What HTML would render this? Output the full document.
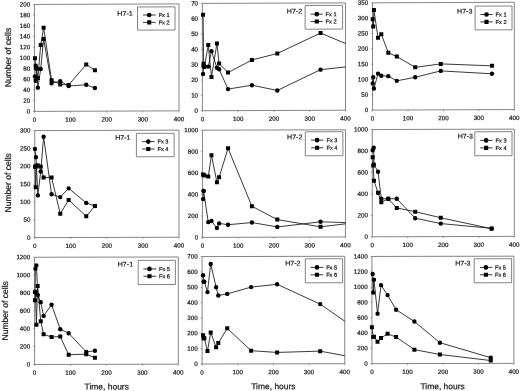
<!DOCTYPE html>
<html><head><meta charset="utf-8"><title>Figure</title>
<style>
html,body{margin:0;padding:0;background:#fff;}
body{width:520px;height:391px;overflow:hidden;}
svg{display:block;will-change:transform;transform:translateZ(0);filter:blur(0.3px);}
text{font-family:"Liberation Sans",sans-serif;fill:#1a1a1a;stroke:#1a1a1a;stroke-width:0.22px;}
</style></head><body>
<svg width="520" height="391" viewBox="0 0 520 391">
<rect x="0" y="0" width="520" height="391" fill="#ffffff"/>
<g transform="skewY(-0.2120)">
<g>
<rect x="34.45" y="4.58" width="144.55" height="106.95" fill="none" stroke="#666666" stroke-width="0.8"/>
<line x1="32.95" y1="111.53" x2="34.45" y2="111.53" stroke="#666666" stroke-width="0.6"/><text x="30.15" y="113.53" font-size="6.25" text-anchor="end">0</text>
<line x1="32.95" y1="100.84" x2="34.45" y2="100.84" stroke="#666666" stroke-width="0.6"/><text x="30.15" y="102.84" font-size="6.25" text-anchor="end">20</text>
<line x1="32.95" y1="90.14" x2="34.45" y2="90.14" stroke="#666666" stroke-width="0.6"/><text x="30.15" y="92.14" font-size="6.25" text-anchor="end">40</text>
<line x1="32.95" y1="79.44" x2="34.45" y2="79.44" stroke="#666666" stroke-width="0.6"/><text x="30.15" y="81.44" font-size="6.25" text-anchor="end">60</text>
<line x1="32.95" y1="68.75" x2="34.45" y2="68.75" stroke="#666666" stroke-width="0.6"/><text x="30.15" y="70.75" font-size="6.25" text-anchor="end">80</text>
<line x1="32.95" y1="58.05" x2="34.45" y2="58.05" stroke="#666666" stroke-width="0.6"/><text x="30.15" y="60.05" font-size="6.25" text-anchor="end">100</text>
<line x1="32.95" y1="47.36" x2="34.45" y2="47.36" stroke="#666666" stroke-width="0.6"/><text x="30.15" y="49.36" font-size="6.25" text-anchor="end">120</text>
<line x1="32.95" y1="36.66" x2="34.45" y2="36.66" stroke="#666666" stroke-width="0.6"/><text x="30.15" y="38.66" font-size="6.25" text-anchor="end">140</text>
<line x1="32.95" y1="25.97" x2="34.45" y2="25.97" stroke="#666666" stroke-width="0.6"/><text x="30.15" y="27.97" font-size="6.25" text-anchor="end">160</text>
<line x1="32.95" y1="15.27" x2="34.45" y2="15.27" stroke="#666666" stroke-width="0.6"/><text x="30.15" y="17.27" font-size="6.25" text-anchor="end">180</text>
<line x1="32.95" y1="4.58" x2="34.45" y2="4.58" stroke="#666666" stroke-width="0.6"/><text x="30.15" y="6.58" font-size="6.25" text-anchor="end">200</text>
<line x1="34.45" y1="111.53" x2="34.45" y2="113.03" stroke="#666666" stroke-width="0.6"/><text x="34.45" y="121.93" font-size="6.25" text-anchor="middle">0</text>
<line x1="70.59" y1="111.53" x2="70.59" y2="113.03" stroke="#666666" stroke-width="0.6"/><text x="70.59" y="121.93" font-size="6.25" text-anchor="middle">100</text>
<line x1="106.73" y1="111.53" x2="106.73" y2="113.03" stroke="#666666" stroke-width="0.6"/><text x="106.73" y="121.93" font-size="6.25" text-anchor="middle">200</text>
<line x1="142.86" y1="111.53" x2="142.86" y2="113.03" stroke="#666666" stroke-width="0.6"/><text x="142.86" y="121.93" font-size="6.25" text-anchor="middle">300</text>
<line x1="179" y1="111.53" x2="179" y2="113.03" stroke="#666666" stroke-width="0.6"/><text x="179" y="121.93" font-size="6.25" text-anchor="middle">400</text>
<clipPath id="c00"><rect x="31.45" y="4.58" width="147.55" height="109.95"/></clipPath>
<g clip-path="url(#c00)">
<polyline points="34.95,76.59 35.67,80.86 36.4,68.57 37.84,87.81 40.73,69.1 43.62,39.17 51.57,83.54 60.24,81.4 68.65,86.21 86.25,85.14 94.92,88.35" fill="none" stroke="#151515" stroke-width="0.85" stroke-linejoin="round"/>
<polyline points="34.95,58.41 35.67,65.9 36.4,68.57 37.84,78.19 40.73,45.05 43.62,27.84 51.57,80.33 60.24,84.61 68.65,85.14 86.25,64.83 94.92,70.71" fill="none" stroke="#151515" stroke-width="0.85" stroke-linejoin="round"/>
<circle cx="34.95" cy="76.59" r="2.2" fill="#000"/><circle cx="35.67" cy="80.86" r="2.2" fill="#000"/><circle cx="36.4" cy="68.57" r="2.2" fill="#000"/><circle cx="37.84" cy="87.81" r="2.2" fill="#000"/><circle cx="40.73" cy="69.1" r="2.2" fill="#000"/><circle cx="43.62" cy="39.17" r="2.2" fill="#000"/><circle cx="51.57" cy="83.54" r="2.2" fill="#000"/><circle cx="60.24" cy="81.4" r="2.2" fill="#000"/><circle cx="68.65" cy="86.21" r="2.2" fill="#000"/><circle cx="86.25" cy="85.14" r="2.2" fill="#000"/><circle cx="94.92" cy="88.35" r="2.2" fill="#000"/>
<rect x="32.95" y="56.41" width="4" height="4" fill="#000"/><rect x="33.67" y="63.9" width="4" height="4" fill="#000"/><rect x="34.4" y="66.57" width="4" height="4" fill="#000"/><rect x="35.84" y="76.19" width="4" height="4" fill="#000"/><rect x="38.73" y="43.05" width="4" height="4" fill="#000"/><rect x="41.62" y="25.84" width="4" height="4" fill="#000"/><rect x="49.57" y="78.33" width="4" height="4" fill="#000"/><rect x="58.24" y="82.61" width="4" height="4" fill="#000"/><rect x="66.65" y="83.14" width="4" height="4" fill="#000"/><rect x="84.25" y="62.83" width="4" height="4" fill="#000"/><rect x="92.92" y="68.71" width="4" height="4" fill="#000"/>
</g>
<rect x="137.5" y="7.51" width="37.5" height="23.15" fill="#fff" stroke="#666666" stroke-width="0.8"/>
<line x1="143" y1="15.55" x2="155.7" y2="15.55" stroke="#151515" stroke-width="0.85"/><circle cx="149.2" cy="15.55" r="2.3" fill="#000"/><text x="158.65" y="17.6" font-size="5.65">Fx 1</text>
<line x1="143" y1="22.95" x2="155.7" y2="22.95" stroke="#151515" stroke-width="0.85"/><rect x="147.15" y="20.9" width="4.1" height="4.1" fill="#000"/><text x="158.65" y="25" font-size="5.65">Fx 2</text>
<text transform="translate(132.7,16.24) scale(1.06,1)" font-size="6.7" text-anchor="end">H7-1</text>
</g>
<g>
<rect x="202.4" y="4.15" width="143.1" height="107.34" fill="none" stroke="#666666" stroke-width="0.8"/>
<line x1="200.9" y1="111.49" x2="202.4" y2="111.49" stroke="#666666" stroke-width="0.6"/><text x="198.1" y="113.49" font-size="6.25" text-anchor="end">0</text>
<line x1="200.9" y1="96.16" x2="202.4" y2="96.16" stroke="#666666" stroke-width="0.6"/><text x="198.1" y="98.16" font-size="6.25" text-anchor="end">10</text>
<line x1="200.9" y1="80.82" x2="202.4" y2="80.82" stroke="#666666" stroke-width="0.6"/><text x="198.1" y="82.82" font-size="6.25" text-anchor="end">20</text>
<line x1="200.9" y1="65.49" x2="202.4" y2="65.49" stroke="#666666" stroke-width="0.6"/><text x="198.1" y="67.49" font-size="6.25" text-anchor="end">30</text>
<line x1="200.9" y1="50.15" x2="202.4" y2="50.15" stroke="#666666" stroke-width="0.6"/><text x="198.1" y="52.15" font-size="6.25" text-anchor="end">40</text>
<line x1="200.9" y1="34.82" x2="202.4" y2="34.82" stroke="#666666" stroke-width="0.6"/><text x="198.1" y="36.82" font-size="6.25" text-anchor="end">50</text>
<line x1="200.9" y1="19.48" x2="202.4" y2="19.48" stroke="#666666" stroke-width="0.6"/><text x="198.1" y="21.48" font-size="6.25" text-anchor="end">60</text>
<line x1="200.9" y1="4.15" x2="202.4" y2="4.15" stroke="#666666" stroke-width="0.6"/><text x="198.1" y="6.15" font-size="6.25" text-anchor="end">70</text>
<line x1="202.4" y1="111.49" x2="202.4" y2="112.99" stroke="#666666" stroke-width="0.6"/><text x="202.4" y="121.89" font-size="6.25" text-anchor="middle">0</text>
<line x1="238.18" y1="111.49" x2="238.18" y2="112.99" stroke="#666666" stroke-width="0.6"/><text x="238.18" y="121.89" font-size="6.25" text-anchor="middle">100</text>
<line x1="273.95" y1="111.49" x2="273.95" y2="112.99" stroke="#666666" stroke-width="0.6"/><text x="273.95" y="121.89" font-size="6.25" text-anchor="middle">200</text>
<line x1="309.73" y1="111.49" x2="309.73" y2="112.99" stroke="#666666" stroke-width="0.6"/><text x="309.73" y="121.89" font-size="6.25" text-anchor="middle">300</text>
<line x1="345.5" y1="111.49" x2="345.5" y2="112.99" stroke="#666666" stroke-width="0.6"/><text x="345.5" y="121.89" font-size="6.25" text-anchor="middle">400</text>
<clipPath id="c01"><rect x="199.4" y="4.15" width="146.1" height="110.34"/></clipPath>
<g clip-path="url(#c01)">
<polyline points="203.08,74.68 203.62,67.04 204.33,67.04 208.26,67.35 211.48,51.92 216.92,68.57 219.1,70.1 228.04,89.95 251.89,86.13 277.29,91.48 320.56,70.86 363.83,66.28" fill="none" stroke="#151515" stroke-width="0.85" stroke-linejoin="round"/>
<polyline points="203.08,15.43 203.62,64.6 204.33,67.81 208.26,45.82 211.48,77.73 216.92,44.29 219.1,64.29 228.04,73.46 251.89,60.93 277.29,54.52 320.56,34.21 363.83,52.53" fill="none" stroke="#151515" stroke-width="0.85" stroke-linejoin="round"/>
<circle cx="203.08" cy="74.68" r="2.2" fill="#000"/><circle cx="203.62" cy="67.04" r="2.2" fill="#000"/><circle cx="204.33" cy="67.04" r="2.2" fill="#000"/><circle cx="208.26" cy="67.35" r="2.2" fill="#000"/><circle cx="211.48" cy="51.92" r="2.2" fill="#000"/><circle cx="216.92" cy="68.57" r="2.2" fill="#000"/><circle cx="219.1" cy="70.1" r="2.2" fill="#000"/><circle cx="228.04" cy="89.95" r="2.2" fill="#000"/><circle cx="251.89" cy="86.13" r="2.2" fill="#000"/><circle cx="277.29" cy="91.48" r="2.2" fill="#000"/><circle cx="320.56" cy="70.86" r="2.2" fill="#000"/>
<rect x="201.08" y="13.43" width="4" height="4" fill="#000"/><rect x="201.62" y="62.6" width="4" height="4" fill="#000"/><rect x="202.33" y="65.81" width="4" height="4" fill="#000"/><rect x="206.26" y="43.82" width="4" height="4" fill="#000"/><rect x="209.48" y="75.73" width="4" height="4" fill="#000"/><rect x="214.92" y="42.29" width="4" height="4" fill="#000"/><rect x="217.1" y="62.29" width="4" height="4" fill="#000"/><rect x="226.04" y="71.46" width="4" height="4" fill="#000"/><rect x="249.89" y="58.93" width="4" height="4" fill="#000"/><rect x="275.29" y="52.52" width="4" height="4" fill="#000"/><rect x="318.56" y="32.21" width="4" height="4" fill="#000"/>
</g>
<rect x="305.1" y="6.63" width="37.5" height="23.7" fill="#fff" stroke="#666666" stroke-width="0.8"/>
<line x1="310.6" y1="15.32" x2="322.7" y2="15.32" stroke="#151515" stroke-width="0.85"/><circle cx="316.8" cy="15.32" r="2.3" fill="#000"/><text x="325.55" y="17.37" font-size="5.65">Fx 1</text>
<line x1="310.6" y1="22.67" x2="322.7" y2="22.67" stroke="#151515" stroke-width="0.85"/><rect x="314.75" y="20.62" width="4.1" height="4.1" fill="#000"/><text x="325.55" y="24.72" font-size="5.65">Fx 2</text>
<text transform="translate(302.15,14.52) scale(1.06,1)" font-size="6.7" text-anchor="end">H7-2</text>
</g>
<g>
<rect x="372.55" y="4.18" width="141.75" height="107.3" fill="none" stroke="#666666" stroke-width="0.8"/>
<line x1="371.05" y1="111.48" x2="372.55" y2="111.48" stroke="#666666" stroke-width="0.6"/><text x="368.25" y="113.48" font-size="6.25" text-anchor="end">0</text>
<line x1="371.05" y1="96.15" x2="372.55" y2="96.15" stroke="#666666" stroke-width="0.6"/><text x="368.25" y="98.15" font-size="6.25" text-anchor="end">50</text>
<line x1="371.05" y1="80.82" x2="372.55" y2="80.82" stroke="#666666" stroke-width="0.6"/><text x="368.25" y="82.82" font-size="6.25" text-anchor="end">100</text>
<line x1="371.05" y1="65.49" x2="372.55" y2="65.49" stroke="#666666" stroke-width="0.6"/><text x="368.25" y="67.49" font-size="6.25" text-anchor="end">150</text>
<line x1="371.05" y1="50.17" x2="372.55" y2="50.17" stroke="#666666" stroke-width="0.6"/><text x="368.25" y="52.17" font-size="6.25" text-anchor="end">200</text>
<line x1="371.05" y1="34.84" x2="372.55" y2="34.84" stroke="#666666" stroke-width="0.6"/><text x="368.25" y="36.84" font-size="6.25" text-anchor="end">250</text>
<line x1="371.05" y1="19.51" x2="372.55" y2="19.51" stroke="#666666" stroke-width="0.6"/><text x="368.25" y="21.51" font-size="6.25" text-anchor="end">300</text>
<line x1="371.05" y1="4.18" x2="372.55" y2="4.18" stroke="#666666" stroke-width="0.6"/><text x="368.25" y="6.18" font-size="6.25" text-anchor="end">350</text>
<line x1="372.55" y1="111.48" x2="372.55" y2="112.98" stroke="#666666" stroke-width="0.6"/><text x="372.55" y="121.88" font-size="6.25" text-anchor="middle">0</text>
<line x1="407.99" y1="111.48" x2="407.99" y2="112.98" stroke="#666666" stroke-width="0.6"/><text x="407.99" y="121.88" font-size="6.25" text-anchor="middle">100</text>
<line x1="443.42" y1="111.48" x2="443.42" y2="112.98" stroke="#666666" stroke-width="0.6"/><text x="443.42" y="121.88" font-size="6.25" text-anchor="middle">200</text>
<line x1="478.86" y1="111.48" x2="478.86" y2="112.98" stroke="#666666" stroke-width="0.6"/><text x="478.86" y="121.88" font-size="6.25" text-anchor="middle">300</text>
<line x1="514.3" y1="111.48" x2="514.3" y2="112.98" stroke="#666666" stroke-width="0.6"/><text x="514.3" y="121.88" font-size="6.25" text-anchor="middle">400</text>
<clipPath id="c02"><rect x="369.55" y="4.18" width="144.75" height="110.3"/></clipPath>
<g clip-path="url(#c02)">
<polyline points="372.67,84.76 373.23,78.65 373.94,89.95 378.02,74.98 381.31,77.12 388.29,77.58 396.79,82.31 415.21,78.8 440.79,72.54 491.98,75.59" fill="none" stroke="#151515" stroke-width="0.85" stroke-linejoin="round"/>
<polyline points="372.67,20.62 373.23,27.95 373.94,11.45 378.02,39.25 381.31,35.58 388.29,54.21 396.79,58.03 415.21,68.88 440.79,65.52 491.98,67.65" fill="none" stroke="#151515" stroke-width="0.85" stroke-linejoin="round"/>
<circle cx="372.67" cy="84.76" r="2.2" fill="#000"/><circle cx="373.23" cy="78.65" r="2.2" fill="#000"/><circle cx="373.94" cy="89.95" r="2.2" fill="#000"/><circle cx="378.02" cy="74.98" r="2.2" fill="#000"/><circle cx="381.31" cy="77.12" r="2.2" fill="#000"/><circle cx="388.29" cy="77.58" r="2.2" fill="#000"/><circle cx="396.79" cy="82.31" r="2.2" fill="#000"/><circle cx="415.21" cy="78.8" r="2.2" fill="#000"/><circle cx="440.79" cy="72.54" r="2.2" fill="#000"/><circle cx="491.98" cy="75.59" r="2.2" fill="#000"/>
<rect x="370.67" y="18.62" width="4" height="4" fill="#000"/><rect x="371.23" y="25.95" width="4" height="4" fill="#000"/><rect x="371.94" y="9.45" width="4" height="4" fill="#000"/><rect x="376.02" y="37.25" width="4" height="4" fill="#000"/><rect x="379.31" y="33.58" width="4" height="4" fill="#000"/><rect x="386.29" y="52.21" width="4" height="4" fill="#000"/><rect x="394.79" y="56.03" width="4" height="4" fill="#000"/><rect x="413.21" y="66.88" width="4" height="4" fill="#000"/><rect x="438.79" y="63.52" width="4" height="4" fill="#000"/><rect x="489.98" y="65.65" width="4" height="4" fill="#000"/>
</g>
<rect x="475.1" y="7.91" width="36.9" height="23.75" fill="#fff" stroke="#666666" stroke-width="0.8"/>
<line x1="480.4" y1="16.3" x2="492.7" y2="16.3" stroke="#151515" stroke-width="0.85"/><circle cx="486.5" cy="16.3" r="2.3" fill="#000"/><text x="495.55" y="18.35" font-size="5.65">Fx 1</text>
<line x1="480.4" y1="23.7" x2="492.7" y2="23.7" stroke="#151515" stroke-width="0.85"/><rect x="484.45" y="21.65" width="4.1" height="4.1" fill="#000"/><text x="495.55" y="25.75" font-size="5.65">Fx 2</text>
<text transform="translate(472.4,15.25) scale(1.06,1)" font-size="6.7" text-anchor="end">H7-3</text>
</g>
<text transform="translate(10.8,57.54) rotate(-90)" font-size="8.55" text-anchor="middle">Number of cells</text>
</g>
<g transform="skewY(-0.1719)">
<g>
<rect x="34.75" y="130.7" width="144.25" height="107.06" fill="none" stroke="#666666" stroke-width="0.8"/>
<line x1="33.25" y1="237.76" x2="34.75" y2="237.76" stroke="#666666" stroke-width="0.6"/><text x="30.45" y="239.76" font-size="6.25" text-anchor="end">0</text>
<line x1="33.25" y1="219.92" x2="34.75" y2="219.92" stroke="#666666" stroke-width="0.6"/><text x="30.45" y="221.92" font-size="6.25" text-anchor="end">50</text>
<line x1="33.25" y1="202.07" x2="34.75" y2="202.07" stroke="#666666" stroke-width="0.6"/><text x="30.45" y="204.07" font-size="6.25" text-anchor="end">100</text>
<line x1="33.25" y1="184.23" x2="34.75" y2="184.23" stroke="#666666" stroke-width="0.6"/><text x="30.45" y="186.23" font-size="6.25" text-anchor="end">150</text>
<line x1="33.25" y1="166.39" x2="34.75" y2="166.39" stroke="#666666" stroke-width="0.6"/><text x="30.45" y="168.39" font-size="6.25" text-anchor="end">200</text>
<line x1="33.25" y1="148.54" x2="34.75" y2="148.54" stroke="#666666" stroke-width="0.6"/><text x="30.45" y="150.54" font-size="6.25" text-anchor="end">250</text>
<line x1="33.25" y1="130.7" x2="34.75" y2="130.7" stroke="#666666" stroke-width="0.6"/><text x="30.45" y="132.7" font-size="6.25" text-anchor="end">300</text>
<line x1="34.75" y1="237.76" x2="34.75" y2="239.26" stroke="#666666" stroke-width="0.6"/><text x="34.75" y="248.16" font-size="6.25" text-anchor="middle">0</text>
<line x1="70.81" y1="237.76" x2="70.81" y2="239.26" stroke="#666666" stroke-width="0.6"/><text x="70.81" y="248.16" font-size="6.25" text-anchor="middle">100</text>
<line x1="106.88" y1="237.76" x2="106.88" y2="239.26" stroke="#666666" stroke-width="0.6"/><text x="106.88" y="248.16" font-size="6.25" text-anchor="middle">200</text>
<line x1="142.94" y1="237.76" x2="142.94" y2="239.26" stroke="#666666" stroke-width="0.6"/><text x="142.94" y="248.16" font-size="6.25" text-anchor="middle">300</text>
<line x1="179" y1="237.76" x2="179" y2="239.26" stroke="#666666" stroke-width="0.6"/><text x="179" y="248.16" font-size="6.25" text-anchor="middle">400</text>
<clipPath id="c10"><rect x="31.75" y="130.7" width="147.25" height="110.06"/></clipPath>
<g clip-path="url(#c10)">
<polyline points="34.95,149.07 35.96,157.29 36.4,165.5 37.84,195.5 40.73,171.57 43.62,136.93 51.57,194.43 60.24,197.29 68.65,188.54 86.25,203.15 94.92,206.22" fill="none" stroke="#151515" stroke-width="0.85" stroke-linejoin="round"/>
<polyline points="34.95,166.93 35.67,187.29 36.4,166.57 37.84,165.5 40.73,166.75 43.62,177.65 51.57,177.65 60.24,213.9 68.65,200.15 86.25,216.58 94.92,206.22" fill="none" stroke="#151515" stroke-width="0.85" stroke-linejoin="round"/>
<circle cx="34.95" cy="149.07" r="2.2" fill="#000"/><circle cx="35.96" cy="157.29" r="2.2" fill="#000"/><circle cx="36.4" cy="165.5" r="2.2" fill="#000"/><circle cx="37.84" cy="195.5" r="2.2" fill="#000"/><circle cx="40.73" cy="171.57" r="2.2" fill="#000"/><circle cx="43.62" cy="136.93" r="2.2" fill="#000"/><circle cx="51.57" cy="194.43" r="2.2" fill="#000"/><circle cx="60.24" cy="197.29" r="2.2" fill="#000"/><circle cx="68.65" cy="188.54" r="2.2" fill="#000"/><circle cx="86.25" cy="203.15" r="2.2" fill="#000"/><circle cx="94.92" cy="206.22" r="2.2" fill="#000"/>
<rect x="32.95" y="164.93" width="4" height="4" fill="#000"/><rect x="33.67" y="185.29" width="4" height="4" fill="#000"/><rect x="34.4" y="164.57" width="4" height="4" fill="#000"/><rect x="35.84" y="163.5" width="4" height="4" fill="#000"/><rect x="38.73" y="164.75" width="4" height="4" fill="#000"/><rect x="41.62" y="175.65" width="4" height="4" fill="#000"/><rect x="49.57" y="175.65" width="4" height="4" fill="#000"/><rect x="58.24" y="211.9" width="4" height="4" fill="#000"/><rect x="66.65" y="198.15" width="4" height="4" fill="#000"/><rect x="84.25" y="214.58" width="4" height="4" fill="#000"/><rect x="92.92" y="204.22" width="4" height="4" fill="#000"/>
</g>
<rect x="136.4" y="133.81" width="37.75" height="23.4" fill="#fff" stroke="#666666" stroke-width="0.8"/>
<line x1="142.15" y1="142.04" x2="154.5" y2="142.04" stroke="#151515" stroke-width="0.85"/><circle cx="148.3" cy="142.04" r="2.3" fill="#000"/><text x="157.45" y="144.09" font-size="5.65">Fx 3</text>
<line x1="142.15" y1="149.44" x2="154.5" y2="149.44" stroke="#151515" stroke-width="0.85"/><rect x="146.25" y="147.39" width="4.1" height="4.1" fill="#000"/><text x="157.45" y="151.49" font-size="5.65">Fx 4</text>
<text transform="translate(130.5,140.19) scale(1.06,1)" font-size="6.7" text-anchor="end">H7-1</text>
</g>
<g>
<rect x="202.45" y="130.81" width="143.01" height="107.19" fill="none" stroke="#666666" stroke-width="0.8"/>
<line x1="200.95" y1="238" x2="202.45" y2="238" stroke="#666666" stroke-width="0.6"/><text x="198.15" y="240" font-size="6.25" text-anchor="end">0</text>
<line x1="200.95" y1="216.56" x2="202.45" y2="216.56" stroke="#666666" stroke-width="0.6"/><text x="198.15" y="218.56" font-size="6.25" text-anchor="end">200</text>
<line x1="200.95" y1="195.12" x2="202.45" y2="195.12" stroke="#666666" stroke-width="0.6"/><text x="198.15" y="197.12" font-size="6.25" text-anchor="end">400</text>
<line x1="200.95" y1="173.69" x2="202.45" y2="173.69" stroke="#666666" stroke-width="0.6"/><text x="198.15" y="175.69" font-size="6.25" text-anchor="end">600</text>
<line x1="200.95" y1="152.25" x2="202.45" y2="152.25" stroke="#666666" stroke-width="0.6"/><text x="198.15" y="154.25" font-size="6.25" text-anchor="end">800</text>
<line x1="200.95" y1="130.81" x2="202.45" y2="130.81" stroke="#666666" stroke-width="0.6"/><text x="198.15" y="132.81" font-size="6.25" text-anchor="end">1000</text>
<line x1="202.45" y1="238" x2="202.45" y2="239.5" stroke="#666666" stroke-width="0.6"/><text x="202.45" y="248.4" font-size="6.25" text-anchor="middle">0</text>
<line x1="238.2" y1="238" x2="238.2" y2="239.5" stroke="#666666" stroke-width="0.6"/><text x="238.2" y="248.4" font-size="6.25" text-anchor="middle">100</text>
<line x1="273.95" y1="238" x2="273.95" y2="239.5" stroke="#666666" stroke-width="0.6"/><text x="273.95" y="248.4" font-size="6.25" text-anchor="middle">200</text>
<line x1="309.71" y1="238" x2="309.71" y2="239.5" stroke="#666666" stroke-width="0.6"/><text x="309.71" y="248.4" font-size="6.25" text-anchor="middle">300</text>
<line x1="345.46" y1="238" x2="345.46" y2="239.5" stroke="#666666" stroke-width="0.6"/><text x="345.46" y="248.4" font-size="6.25" text-anchor="middle">400</text>
<clipPath id="c11"><rect x="199.45" y="130.81" width="146.01" height="110.19"/></clipPath>
<g clip-path="url(#c11)">
<polyline points="203.08,199.72 203.62,191.68 203.62,191.68 208.26,222.76 211.48,221.68 216.92,228.65 219.1,224.04 228.04,225.43 251.89,223.29 277.29,227.79 320.56,222.76 363.83,224.3" fill="none" stroke="#151515" stroke-width="0.85" stroke-linejoin="round"/>
<polyline points="203.08,175.18 203.62,175.5 204.33,176.04 208.26,177.11 211.48,156 216.92,182.79 219.1,177.97 228.04,149.04 251.89,207.01 277.29,220.45 320.56,227.79 363.83,222.68" fill="none" stroke="#151515" stroke-width="0.85" stroke-linejoin="round"/>
<circle cx="203.08" cy="199.72" r="2.2" fill="#000"/><circle cx="203.62" cy="191.68" r="2.2" fill="#000"/><circle cx="203.62" cy="191.68" r="2.2" fill="#000"/><circle cx="208.26" cy="222.76" r="2.2" fill="#000"/><circle cx="211.48" cy="221.68" r="2.2" fill="#000"/><circle cx="216.92" cy="228.65" r="2.2" fill="#000"/><circle cx="219.1" cy="224.04" r="2.2" fill="#000"/><circle cx="228.04" cy="225.43" r="2.2" fill="#000"/><circle cx="251.89" cy="223.29" r="2.2" fill="#000"/><circle cx="277.29" cy="227.79" r="2.2" fill="#000"/><circle cx="320.56" cy="222.76" r="2.2" fill="#000"/>
<rect x="201.08" y="173.18" width="4" height="4" fill="#000"/><rect x="201.62" y="173.5" width="4" height="4" fill="#000"/><rect x="202.33" y="174.04" width="4" height="4" fill="#000"/><rect x="206.26" y="175.11" width="4" height="4" fill="#000"/><rect x="209.48" y="154" width="4" height="4" fill="#000"/><rect x="214.92" y="180.79" width="4" height="4" fill="#000"/><rect x="217.1" y="175.97" width="4" height="4" fill="#000"/><rect x="226.04" y="147.04" width="4" height="4" fill="#000"/><rect x="249.89" y="205.01" width="4" height="4" fill="#000"/><rect x="275.29" y="218.45" width="4" height="4" fill="#000"/><rect x="318.56" y="225.79" width="4" height="4" fill="#000"/>
</g>
<rect x="305.3" y="132.72" width="37.6" height="24" fill="#fff" stroke="#666666" stroke-width="0.8"/>
<line x1="311" y1="141.1" x2="323.3" y2="141.1" stroke="#151515" stroke-width="0.85"/><circle cx="317.1" cy="141.1" r="2.3" fill="#000"/><text x="326.45" y="143.15" font-size="5.65">Fx 3</text>
<line x1="311" y1="148.75" x2="323.3" y2="148.75" stroke="#151515" stroke-width="0.85"/><rect x="315.05" y="146.7" width="4.1" height="4.1" fill="#000"/><text x="326.45" y="150.8" font-size="5.65">Fx 4</text>
<text transform="translate(302.4,140.21) scale(1.06,1)" font-size="6.7" text-anchor="end">H7-2</text>
</g>
<g>
<rect x="372.25" y="130.66" width="142.05" height="107.26" fill="none" stroke="#666666" stroke-width="0.8"/>
<line x1="370.75" y1="237.92" x2="372.25" y2="237.92" stroke="#666666" stroke-width="0.6"/><text x="367.95" y="239.92" font-size="6.25" text-anchor="end">0</text>
<line x1="370.75" y1="216.47" x2="372.25" y2="216.47" stroke="#666666" stroke-width="0.6"/><text x="367.95" y="218.47" font-size="6.25" text-anchor="end">200</text>
<line x1="370.75" y1="195.02" x2="372.25" y2="195.02" stroke="#666666" stroke-width="0.6"/><text x="367.95" y="197.02" font-size="6.25" text-anchor="end">400</text>
<line x1="370.75" y1="173.56" x2="372.25" y2="173.56" stroke="#666666" stroke-width="0.6"/><text x="367.95" y="175.56" font-size="6.25" text-anchor="end">600</text>
<line x1="370.75" y1="152.11" x2="372.25" y2="152.11" stroke="#666666" stroke-width="0.6"/><text x="367.95" y="154.11" font-size="6.25" text-anchor="end">800</text>
<line x1="370.75" y1="130.66" x2="372.25" y2="130.66" stroke="#666666" stroke-width="0.6"/><text x="367.95" y="132.66" font-size="6.25" text-anchor="end">1000</text>
<line x1="372.25" y1="237.92" x2="372.25" y2="239.42" stroke="#666666" stroke-width="0.6"/><text x="372.25" y="248.32" font-size="6.25" text-anchor="middle">0</text>
<line x1="407.76" y1="237.92" x2="407.76" y2="239.42" stroke="#666666" stroke-width="0.6"/><text x="407.76" y="248.32" font-size="6.25" text-anchor="middle">100</text>
<line x1="443.27" y1="237.92" x2="443.27" y2="239.42" stroke="#666666" stroke-width="0.6"/><text x="443.27" y="248.32" font-size="6.25" text-anchor="middle">200</text>
<line x1="478.79" y1="237.92" x2="478.79" y2="239.42" stroke="#666666" stroke-width="0.6"/><text x="478.79" y="248.32" font-size="6.25" text-anchor="middle">300</text>
<line x1="514.3" y1="237.92" x2="514.3" y2="239.42" stroke="#666666" stroke-width="0.6"/><text x="514.3" y="248.32" font-size="6.25" text-anchor="middle">400</text>
<clipPath id="c12"><rect x="369.25" y="130.66" width="145.05" height="110.26"/></clipPath>
<g clip-path="url(#c12)">
<polyline points="372.67,151.39 373.73,148.82 373.94,165.65 378.02,172.82 381.31,199.93 388.29,199.93 396.79,199.93 415.21,219.43 440.79,224.9 491.62,229.83" fill="none" stroke="#151515" stroke-width="0.85" stroke-linejoin="round"/>
<polyline points="372.67,158.25 373.23,166.72 373.94,181.82 378.02,193.83 381.31,203.47 388.29,199.93 396.79,209.15 415.21,212.9 440.79,219.11 491.62,230.15" fill="none" stroke="#151515" stroke-width="0.85" stroke-linejoin="round"/>
<circle cx="372.67" cy="151.39" r="2.2" fill="#000"/><circle cx="373.73" cy="148.82" r="2.2" fill="#000"/><circle cx="373.94" cy="165.65" r="2.2" fill="#000"/><circle cx="378.02" cy="172.82" r="2.2" fill="#000"/><circle cx="381.31" cy="199.93" r="2.2" fill="#000"/><circle cx="388.29" cy="199.93" r="2.2" fill="#000"/><circle cx="396.79" cy="199.93" r="2.2" fill="#000"/><circle cx="415.21" cy="219.43" r="2.2" fill="#000"/><circle cx="440.79" cy="224.9" r="2.2" fill="#000"/><circle cx="491.62" cy="229.83" r="2.2" fill="#000"/>
<rect x="370.67" y="156.25" width="4" height="4" fill="#000"/><rect x="371.23" y="164.72" width="4" height="4" fill="#000"/><rect x="371.94" y="179.82" width="4" height="4" fill="#000"/><rect x="376.02" y="191.83" width="4" height="4" fill="#000"/><rect x="379.31" y="201.47" width="4" height="4" fill="#000"/><rect x="386.29" y="197.93" width="4" height="4" fill="#000"/><rect x="394.79" y="207.15" width="4" height="4" fill="#000"/><rect x="413.21" y="210.9" width="4" height="4" fill="#000"/><rect x="438.79" y="217.11" width="4" height="4" fill="#000"/><rect x="489.62" y="228.15" width="4" height="4" fill="#000"/>
</g>
<rect x="474.8" y="133.22" width="37.2" height="24" fill="#fff" stroke="#666666" stroke-width="0.8"/>
<line x1="480.25" y1="141.86" x2="492.55" y2="141.86" stroke="#151515" stroke-width="0.85"/><circle cx="486.15" cy="141.86" r="2.3" fill="#000"/><text x="495.55" y="143.91" font-size="5.65">Fx 3</text>
<line x1="480.25" y1="149.36" x2="492.55" y2="149.36" stroke="#151515" stroke-width="0.85"/><rect x="484.1" y="147.31" width="4.1" height="4.1" fill="#000"/><text x="495.55" y="151.41" font-size="5.65">Fx 4</text>
<text transform="translate(473,139.97) scale(1.06,1)" font-size="6.7" text-anchor="end">H7-3</text>
</g>
<text transform="translate(11.2,182.83) rotate(-90)" font-size="8.55" text-anchor="middle">Number of cells</text>
</g>
<g transform="skewY(-0.1146)">
<g>
<rect x="34.6" y="257.33" width="143.7" height="107.2" fill="none" stroke="#666666" stroke-width="0.8"/>
<line x1="33.1" y1="364.53" x2="34.6" y2="364.53" stroke="#666666" stroke-width="0.6"/><text x="30.3" y="366.53" font-size="6.25" text-anchor="end">0</text>
<line x1="33.1" y1="346.66" x2="34.6" y2="346.66" stroke="#666666" stroke-width="0.6"/><text x="30.3" y="348.66" font-size="6.25" text-anchor="end">200</text>
<line x1="33.1" y1="328.8" x2="34.6" y2="328.8" stroke="#666666" stroke-width="0.6"/><text x="30.3" y="330.8" font-size="6.25" text-anchor="end">400</text>
<line x1="33.1" y1="310.93" x2="34.6" y2="310.93" stroke="#666666" stroke-width="0.6"/><text x="30.3" y="312.93" font-size="6.25" text-anchor="end">600</text>
<line x1="33.1" y1="293.06" x2="34.6" y2="293.06" stroke="#666666" stroke-width="0.6"/><text x="30.3" y="295.06" font-size="6.25" text-anchor="end">800</text>
<line x1="33.1" y1="275.2" x2="34.6" y2="275.2" stroke="#666666" stroke-width="0.6"/><text x="30.3" y="277.2" font-size="6.25" text-anchor="end">1000</text>
<line x1="33.1" y1="257.33" x2="34.6" y2="257.33" stroke="#666666" stroke-width="0.6"/><text x="30.3" y="259.33" font-size="6.25" text-anchor="end">1200</text>
<line x1="34.6" y1="364.53" x2="34.6" y2="366.03" stroke="#666666" stroke-width="0.6"/><text x="34.6" y="374.93" font-size="6.25" text-anchor="middle">0</text>
<line x1="70.53" y1="364.53" x2="70.53" y2="366.03" stroke="#666666" stroke-width="0.6"/><text x="70.53" y="374.93" font-size="6.25" text-anchor="middle">100</text>
<line x1="106.45" y1="364.53" x2="106.45" y2="366.03" stroke="#666666" stroke-width="0.6"/><text x="106.45" y="374.93" font-size="6.25" text-anchor="middle">200</text>
<line x1="142.38" y1="364.53" x2="142.38" y2="366.03" stroke="#666666" stroke-width="0.6"/><text x="142.38" y="374.93" font-size="6.25" text-anchor="middle">300</text>
<line x1="178.3" y1="364.53" x2="178.3" y2="366.03" stroke="#666666" stroke-width="0.6"/><text x="178.3" y="374.93" font-size="6.25" text-anchor="middle">400</text>
<clipPath id="c20"><rect x="31.6" y="257.33" width="146.7" height="110.2"/></clipPath>
<g clip-path="url(#c20)">
<polyline points="34.95,292.33 35.42,268.74 36.4,265.44 37.84,295.19 40.73,302.24 43.62,316 51.57,304.83 60.24,329.31 68.65,333.33 86.25,352.09 94.92,350.93" fill="none" stroke="#151515" stroke-width="0.85" stroke-linejoin="round"/>
<polyline points="34.95,300.28 35.42,291.79 36.4,324.84 37.62,286.07 40.73,321.36 43.62,334.4 51.57,337.17 60.24,336.64 68.65,354.86 86.25,354.32 94.92,357.9" fill="none" stroke="#151515" stroke-width="0.85" stroke-linejoin="round"/>
<circle cx="34.95" cy="292.33" r="2.2" fill="#000"/><circle cx="35.42" cy="268.74" r="2.2" fill="#000"/><circle cx="36.4" cy="265.44" r="2.2" fill="#000"/><circle cx="37.84" cy="295.19" r="2.2" fill="#000"/><circle cx="40.73" cy="302.24" r="2.2" fill="#000"/><circle cx="43.62" cy="316" r="2.2" fill="#000"/><circle cx="51.57" cy="304.83" r="2.2" fill="#000"/><circle cx="60.24" cy="329.31" r="2.2" fill="#000"/><circle cx="68.65" cy="333.33" r="2.2" fill="#000"/><circle cx="86.25" cy="352.09" r="2.2" fill="#000"/><circle cx="94.92" cy="350.93" r="2.2" fill="#000"/>
<rect x="32.95" y="298.28" width="4" height="4" fill="#000"/><rect x="33.42" y="289.79" width="4" height="4" fill="#000"/><rect x="34.4" y="322.84" width="4" height="4" fill="#000"/><rect x="35.62" y="284.07" width="4" height="4" fill="#000"/><rect x="38.73" y="319.36" width="4" height="4" fill="#000"/><rect x="41.62" y="332.4" width="4" height="4" fill="#000"/><rect x="49.57" y="335.17" width="4" height="4" fill="#000"/><rect x="58.24" y="334.64" width="4" height="4" fill="#000"/><rect x="66.65" y="352.86" width="4" height="4" fill="#000"/><rect x="84.25" y="352.32" width="4" height="4" fill="#000"/><rect x="92.92" y="355.9" width="4" height="4" fill="#000"/>
</g>
<rect x="138.2" y="260.68" width="37.2" height="24.2" fill="#fff" stroke="#666666" stroke-width="0.8"/>
<line x1="143.4" y1="269.2" x2="156.3" y2="269.2" stroke="#151515" stroke-width="0.85"/><circle cx="149.5" cy="269.2" r="2.3" fill="#000"/><text x="158.95" y="271.25" font-size="5.65">Fx 5</text>
<line x1="143.4" y1="276.55" x2="156.3" y2="276.55" stroke="#151515" stroke-width="0.85"/><rect x="147.45" y="274.5" width="4.1" height="4.1" fill="#000"/><text x="158.95" y="278.6" font-size="5.65">Fx 6</text>
<text transform="translate(133.1,266.67) scale(1.06,1)" font-size="6.7" text-anchor="end">H7-1</text>
</g>
<g>
<rect x="202.1" y="256.98" width="142.65" height="107.42" fill="none" stroke="#666666" stroke-width="0.8"/>
<line x1="200.6" y1="364.4" x2="202.1" y2="364.4" stroke="#666666" stroke-width="0.6"/><text x="197.8" y="366.4" font-size="6.25" text-anchor="end">0</text>
<line x1="200.6" y1="349.05" x2="202.1" y2="349.05" stroke="#666666" stroke-width="0.6"/><text x="197.8" y="351.05" font-size="6.25" text-anchor="end">100</text>
<line x1="200.6" y1="333.71" x2="202.1" y2="333.71" stroke="#666666" stroke-width="0.6"/><text x="197.8" y="335.71" font-size="6.25" text-anchor="end">200</text>
<line x1="200.6" y1="318.36" x2="202.1" y2="318.36" stroke="#666666" stroke-width="0.6"/><text x="197.8" y="320.36" font-size="6.25" text-anchor="end">300</text>
<line x1="200.6" y1="303.02" x2="202.1" y2="303.02" stroke="#666666" stroke-width="0.6"/><text x="197.8" y="305.02" font-size="6.25" text-anchor="end">400</text>
<line x1="200.6" y1="287.67" x2="202.1" y2="287.67" stroke="#666666" stroke-width="0.6"/><text x="197.8" y="289.67" font-size="6.25" text-anchor="end">500</text>
<line x1="200.6" y1="272.33" x2="202.1" y2="272.33" stroke="#666666" stroke-width="0.6"/><text x="197.8" y="274.33" font-size="6.25" text-anchor="end">600</text>
<line x1="200.6" y1="256.98" x2="202.1" y2="256.98" stroke="#666666" stroke-width="0.6"/><text x="197.8" y="258.98" font-size="6.25" text-anchor="end">700</text>
<line x1="202.1" y1="364.4" x2="202.1" y2="365.9" stroke="#666666" stroke-width="0.6"/><text x="202.1" y="374.8" font-size="6.25" text-anchor="middle">0</text>
<line x1="237.76" y1="364.4" x2="237.76" y2="365.9" stroke="#666666" stroke-width="0.6"/><text x="237.76" y="374.8" font-size="6.25" text-anchor="middle">100</text>
<line x1="273.43" y1="364.4" x2="273.43" y2="365.9" stroke="#666666" stroke-width="0.6"/><text x="273.43" y="374.8" font-size="6.25" text-anchor="middle">200</text>
<line x1="309.09" y1="364.4" x2="309.09" y2="365.9" stroke="#666666" stroke-width="0.6"/><text x="309.09" y="374.8" font-size="6.25" text-anchor="middle">300</text>
<line x1="344.75" y1="364.4" x2="344.75" y2="365.9" stroke="#666666" stroke-width="0.6"/><text x="344.75" y="374.8" font-size="6.25" text-anchor="middle">400</text>
<clipPath id="c21"><rect x="199.1" y="256.98" width="145.65" height="110.42"/></clipPath>
<g clip-path="url(#c21)">
<polyline points="203.08,275.66 203.62,282.09 204.33,282.09 207.48,292.51 210.7,264.48 216.13,287.61 218.28,295.88 227.22,294.34 251.11,287.61 277.11,284.85 320.2,304.76 363.83,335.23" fill="none" stroke="#151515" stroke-width="0.85" stroke-linejoin="round"/>
<polyline points="203.08,335.54 203.62,338.6 204.33,338.6 207.48,351.47 210.7,332.94 216.13,347.79 218.28,343.5 227.22,328.8 251.11,351.16 277.11,353 320.2,351.77 363.83,360.04" fill="none" stroke="#151515" stroke-width="0.85" stroke-linejoin="round"/>
<circle cx="203.08" cy="275.66" r="2.2" fill="#000"/><circle cx="203.62" cy="282.09" r="2.2" fill="#000"/><circle cx="204.33" cy="282.09" r="2.2" fill="#000"/><circle cx="207.48" cy="292.51" r="2.2" fill="#000"/><circle cx="210.7" cy="264.48" r="2.2" fill="#000"/><circle cx="216.13" cy="287.61" r="2.2" fill="#000"/><circle cx="218.28" cy="295.88" r="2.2" fill="#000"/><circle cx="227.22" cy="294.34" r="2.2" fill="#000"/><circle cx="251.11" cy="287.61" r="2.2" fill="#000"/><circle cx="277.11" cy="284.85" r="2.2" fill="#000"/><circle cx="320.2" cy="304.76" r="2.2" fill="#000"/>
<rect x="201.08" y="333.54" width="4" height="4" fill="#000"/><rect x="201.62" y="336.6" width="4" height="4" fill="#000"/><rect x="202.33" y="336.6" width="4" height="4" fill="#000"/><rect x="205.48" y="349.47" width="4" height="4" fill="#000"/><rect x="208.7" y="330.94" width="4" height="4" fill="#000"/><rect x="214.13" y="345.79" width="4" height="4" fill="#000"/><rect x="216.28" y="341.5" width="4" height="4" fill="#000"/><rect x="225.22" y="326.8" width="4" height="4" fill="#000"/><rect x="249.11" y="349.16" width="4" height="4" fill="#000"/><rect x="275.11" y="351" width="4" height="4" fill="#000"/><rect x="318.2" y="349.77" width="4" height="4" fill="#000"/>
</g>
<rect x="305.3" y="259.41" width="37.3" height="24" fill="#fff" stroke="#666666" stroke-width="0.8"/>
<line x1="310.6" y1="268.03" x2="323.3" y2="268.03" stroke="#151515" stroke-width="0.85"/><circle cx="317" cy="268.03" r="2.3" fill="#000"/><text x="326.15" y="270.08" font-size="5.65">Fx 5</text>
<line x1="310.6" y1="275.43" x2="323.3" y2="275.43" stroke="#151515" stroke-width="0.85"/><rect x="314.95" y="273.38" width="4.1" height="4.1" fill="#000"/><text x="326.15" y="277.48" font-size="5.65">Fx 6</text>
<text transform="translate(300.55,266.1) scale(1.06,1)" font-size="6.7" text-anchor="end">H7-2</text>
</g>
<g>
<rect x="371.95" y="257.2" width="141.95" height="107.2" fill="none" stroke="#666666" stroke-width="0.8"/>
<line x1="370.45" y1="364.4" x2="371.95" y2="364.4" stroke="#666666" stroke-width="0.6"/><text x="367.65" y="366.4" font-size="6.25" text-anchor="end">0</text>
<line x1="370.45" y1="349.09" x2="371.95" y2="349.09" stroke="#666666" stroke-width="0.6"/><text x="367.65" y="351.09" font-size="6.25" text-anchor="end">200</text>
<line x1="370.45" y1="333.77" x2="371.95" y2="333.77" stroke="#666666" stroke-width="0.6"/><text x="367.65" y="335.77" font-size="6.25" text-anchor="end">400</text>
<line x1="370.45" y1="318.46" x2="371.95" y2="318.46" stroke="#666666" stroke-width="0.6"/><text x="367.65" y="320.46" font-size="6.25" text-anchor="end">600</text>
<line x1="370.45" y1="303.14" x2="371.95" y2="303.14" stroke="#666666" stroke-width="0.6"/><text x="367.65" y="305.14" font-size="6.25" text-anchor="end">800</text>
<line x1="370.45" y1="287.83" x2="371.95" y2="287.83" stroke="#666666" stroke-width="0.6"/><text x="367.65" y="289.83" font-size="6.25" text-anchor="end">1000</text>
<line x1="370.45" y1="272.51" x2="371.95" y2="272.51" stroke="#666666" stroke-width="0.6"/><text x="367.65" y="274.51" font-size="6.25" text-anchor="end">1200</text>
<line x1="370.45" y1="257.2" x2="371.95" y2="257.2" stroke="#666666" stroke-width="0.6"/><text x="367.65" y="259.2" font-size="6.25" text-anchor="end">1400</text>
<line x1="371.95" y1="364.4" x2="371.95" y2="365.9" stroke="#666666" stroke-width="0.6"/><text x="371.95" y="374.8" font-size="6.25" text-anchor="middle">0</text>
<line x1="407.44" y1="364.4" x2="407.44" y2="365.9" stroke="#666666" stroke-width="0.6"/><text x="407.44" y="374.8" font-size="6.25" text-anchor="middle">100</text>
<line x1="442.92" y1="364.4" x2="442.92" y2="365.9" stroke="#666666" stroke-width="0.6"/><text x="442.92" y="374.8" font-size="6.25" text-anchor="middle">200</text>
<line x1="478.41" y1="364.4" x2="478.41" y2="365.9" stroke="#666666" stroke-width="0.6"/><text x="478.41" y="374.8" font-size="6.25" text-anchor="middle">300</text>
<line x1="513.9" y1="364.4" x2="513.9" y2="365.9" stroke="#666666" stroke-width="0.6"/><text x="513.9" y="374.8" font-size="6.25" text-anchor="middle">400</text>
<clipPath id="c22"><rect x="368.95" y="257.2" width="144.95" height="110.2"/></clipPath>
<g clip-path="url(#c22)">
<polyline points="372.67,274.82 373.23,293.27 373.94,280.48 377.56,314.41 381.03,285.92 387.55,295.88 396.08,310.5 414.4,322.37 439.9,343.58 490.74,358.66" fill="none" stroke="#151515" stroke-width="0.85" stroke-linejoin="round"/>
<polyline points="371.89,327.88 373.23,337.84 373.94,337.53 377.56,342.43 381.03,338.68 387.55,334.62 396.08,337.84 414.4,350.47 439.9,355.37 490.74,361.5" fill="none" stroke="#151515" stroke-width="0.85" stroke-linejoin="round"/>
<circle cx="372.67" cy="274.82" r="2.2" fill="#000"/><circle cx="373.23" cy="293.27" r="2.2" fill="#000"/><circle cx="373.94" cy="280.48" r="2.2" fill="#000"/><circle cx="377.56" cy="314.41" r="2.2" fill="#000"/><circle cx="381.03" cy="285.92" r="2.2" fill="#000"/><circle cx="387.55" cy="295.88" r="2.2" fill="#000"/><circle cx="396.08" cy="310.5" r="2.2" fill="#000"/><circle cx="414.4" cy="322.37" r="2.2" fill="#000"/><circle cx="439.9" cy="343.58" r="2.2" fill="#000"/><circle cx="490.74" cy="358.66" r="2.2" fill="#000"/>
<rect x="369.89" y="325.88" width="4" height="4" fill="#000"/><rect x="371.23" y="335.84" width="4" height="4" fill="#000"/><rect x="371.94" y="335.53" width="4" height="4" fill="#000"/><rect x="375.56" y="340.43" width="4" height="4" fill="#000"/><rect x="379.03" y="336.68" width="4" height="4" fill="#000"/><rect x="385.55" y="332.62" width="4" height="4" fill="#000"/><rect x="394.08" y="335.84" width="4" height="4" fill="#000"/><rect x="412.4" y="348.47" width="4" height="4" fill="#000"/><rect x="437.9" y="353.37" width="4" height="4" fill="#000"/><rect x="488.74" y="359.5" width="4" height="4" fill="#000"/>
</g>
<rect x="474.2" y="259.75" width="37.4" height="24" fill="#fff" stroke="#666666" stroke-width="0.8"/>
<line x1="480" y1="268.37" x2="492.3" y2="268.37" stroke="#151515" stroke-width="0.85"/><circle cx="485.9" cy="268.37" r="2.3" fill="#000"/><text x="494.95" y="270.42" font-size="5.65">Fx 5</text>
<line x1="480" y1="275.77" x2="492.3" y2="275.77" stroke="#151515" stroke-width="0.85"/><rect x="483.85" y="273.72" width="4.1" height="4.1" fill="#000"/><text x="494.95" y="277.82" font-size="5.65">Fx 6</text>
<text transform="translate(470.55,266.44) scale(1.06,1)" font-size="6.7" text-anchor="end">H7-3</text>
</g>
<text transform="translate(7.9,310.82) rotate(-90)" font-size="8.55" text-anchor="middle">Number of cells</text>
<text x="106.75" y="389.71" font-size="8.45" text-anchor="middle">Time, hours</text>
<text x="273.4" y="389.75" font-size="8.45" text-anchor="middle">Time, hours</text>
<text x="442.6" y="390.09" font-size="8.45" text-anchor="middle">Time, hours</text>
</g>
</svg>
</body></html>
